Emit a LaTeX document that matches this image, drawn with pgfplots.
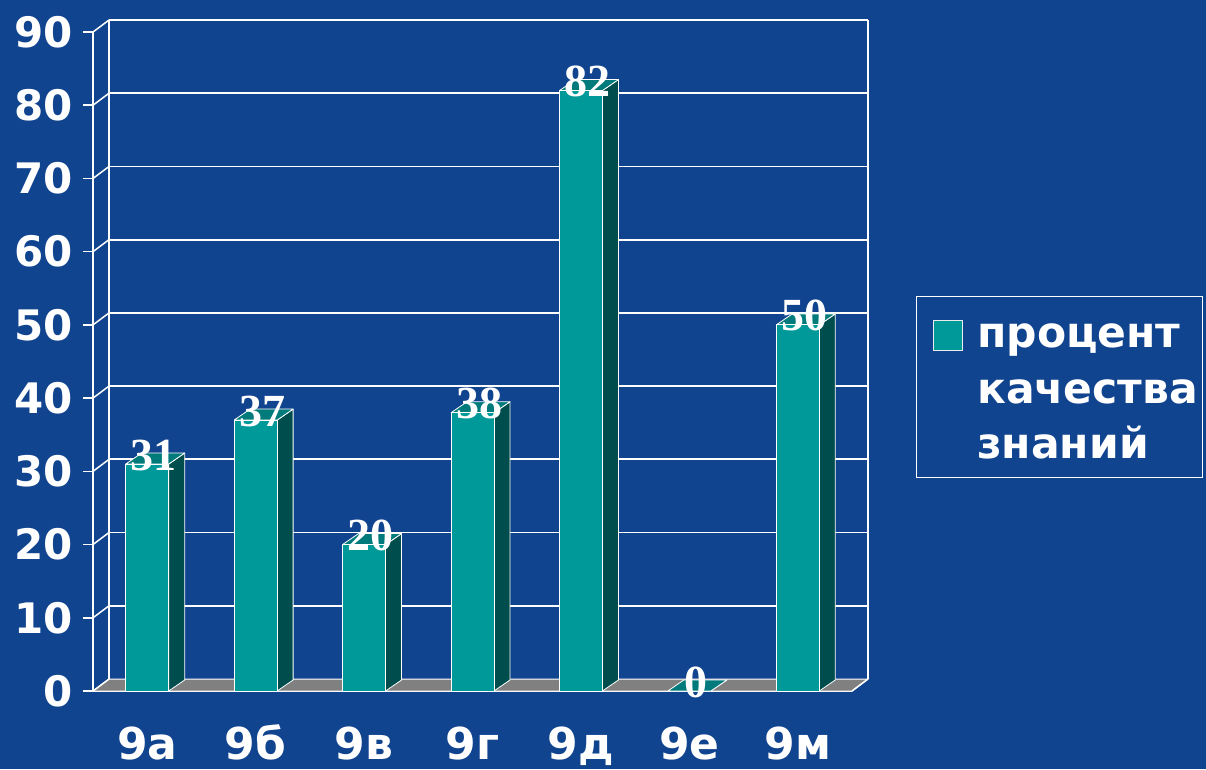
\documentclass[border=0pt]{standalone}
\usepackage{fontspec}
\setmainfont{DejaVu Sans}
\newfontfamily\serifb{Liberation Serif}
\usepackage{pgfplots}
\pgfplotsset{compat=1.18}
\definecolor{bg}{RGB}{17,68,143}
\definecolor{barfront}{RGB}{0,153,153}
\definecolor{barside}{RGB}{0,77,77}
\definecolor{bartop}{RGB}{0,122,122}
\definecolor{floorc}{RGB}{128,128,128}
\newcommand\bard[2]{%
\draw[fill=barside,draw=white,line width=0.8pt,line join=round] ([xshift=21.5pt]axis cs:#1,0) -- ([xshift=37.5pt,yshift=11pt]axis cs:#1,0) -- ([xshift=37.5pt,yshift=11pt]axis cs:#1,#2) -- ([xshift=21.5pt]axis cs:#1,#2) -- cycle;
\draw[fill=bartop,draw=white,line width=0.8pt,line join=round] ([xshift=-21.5pt]axis cs:#1,#2) -- ([xshift=21.5pt]axis cs:#1,#2) -- ([xshift=37.5pt,yshift=11pt]axis cs:#1,#2) -- ([xshift=-5.5pt,yshift=11pt]axis cs:#1,#2) -- cycle;}
\begin{document}
\begin{tikzpicture}[x=1pt,y=1pt]
\useasboundingbox (0,0) rectangle (1206,769);
\fill[bg] (0,0) rectangle (1206,769);
\begin{axis}[
  at={(93pt,78pt)}, anchor=south west,
  width=759pt, height=659pt, scale only axis,
  xmin=-0.5, xmax=6.5, ymin=0, ymax=90,
  clip=false,
  axis x line*=bottom, axis y line*=left,
  axis line style={white, line width=1.5pt, -},
  xtick={0,...,6},
  xticklabels={9а,9б,9в,9г,9д,9е,9м},
  major x tick style={draw=none},
  extra x ticks={-0.5,0.5,...,6.5},
  extra x tick labels={},
  extra x tick style={tick align=outside, major tick length=12pt, tick style={white, line width=1.5pt}},
  ytick={0,10,...,90},
  tick align=outside, major tick length=10pt,
  y tick style={white, line width=1.5pt},
  /pgf/number format/assume math mode=true,
  ticklabel style={text=white, font=\fontsize{42}{42}\selectfont\bfseries},
  yticklabel style={inner sep=0pt, xshift=-10pt},
  xticklabel style={inner sep=0pt, anchor=base, yshift=-58pt, font=\fontsize{44}{44}\selectfont\bfseries},
]
% floor
\draw[fill=floorc, draw=white, line width=1pt] (axis cs:-0.5,0) -- (axis cs:6.5,0) -- ([shift={(16pt,12pt)}]axis cs:6.5,0) -- ([shift={(16pt,12pt)}]axis cs:-0.5,0) -- cycle;
% back wall
\pgfplotsinvokeforeach{10,20,...,90}{
  \draw[white, line width=1.7pt] ([shift={(16pt,12pt)}]axis cs:-0.5,#1) -- ([shift={(16pt,12pt)}]axis cs:6.5,#1);
}
\pgfplotsinvokeforeach{0,10,...,90}{
  \draw[white, line width=1.5pt] (axis cs:-0.5,#1) -- ([shift={(16pt,12pt)}]axis cs:-0.5,#1);
}
\draw[white, line width=1.5pt] ([shift={(16pt,12pt)}]axis cs:-0.5,0) -- ([shift={(16pt,12pt)}]axis cs:-0.5,90);
\draw[white, line width=1.5pt] ([shift={(16pt,12pt)}]axis cs:6.5,0) -- ([shift={(16pt,12pt)}]axis cs:6.5,90);
\draw[white, line width=1.5pt] (axis cs:6.5,0) -- ([shift={(16pt,12pt)}]axis cs:6.5,0);
% bars 3D faces
\bard{0}{31}
\bard{1}{37}
\bard{2}{20}
\bard{3}{38}
\bard{4}{82}
\bard{5}{0}
\bard{6}{50}
\addplot[ybar, bar width=43pt, fill=barfront, draw=white, line width=0.8pt,
  nodes near coords, nodes near coords style={anchor=center, xshift=6.5pt, yshift=9pt, inner sep=0pt, text=white, font=\serifb\fontsize{46}{46}\selectfont\bfseries}]
  coordinates {(0,31) (1,37) (2,20) (3,38) (4,82) (5,0) (6,50)};
\end{axis}
% legend
\draw[white, line width=1pt] (916,292) rectangle (1202,472);
\draw[fill=barfront, draw=white!85!gray, line width=1pt] (933,418) rectangle (962,448);
\begin{scope}[every node/.style={anchor=base west, inner sep=0pt, text=white, font=\fontsize{42.5}{42.5}\selectfont\bfseries}]
\node at (977,421) {процент};
\node at (977,366) {качества};
\node at (977,311) {знаний};
\end{scope}
\end{tikzpicture}
\end{document}
